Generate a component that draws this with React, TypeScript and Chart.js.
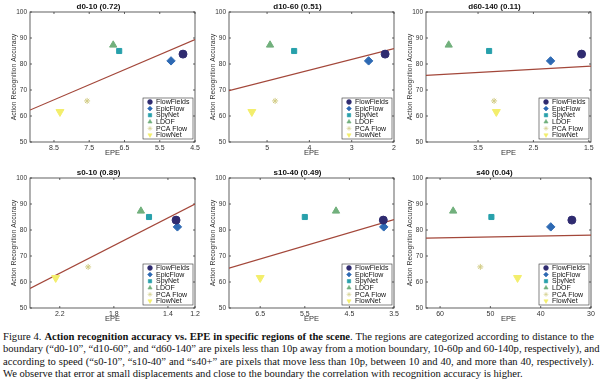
import React, { useEffect, useRef } from 'react';
import { Chart, registerables } from 'chart.js';
import { drawPoint } from 'chart.js/helpers';

Chart.register(...registerables);
Chart.defaults.font.family = '"Liberation Sans", Arial, Helvetica, sans-serif';

// ---------- data ----------
const methods = ['FlowFields', 'EpicFlow', 'SpyNet', 'LDOF', 'PCA Flow', 'FlowNet'];
const accuracy = [83.8, 81.2, 85.0, 87.3, 65.8, 61.6];

const panelTitles = ['d0-10 (0.72)', 'd10-60 (0.51)', 'd60-140 (0.11)', 's0-10 (0.89)', 's10-40 (0.49)', 's40 (0.04)'];

const epeD0_10 = [4.84, 5.18, 6.65, 6.82, 7.56, 8.33];
const epeD10_60 = [2.21, 2.6, 4.36, 4.93, 4.81, 5.36];
const epeD60_140 = [1.63, 2.19, 3.3, 4.03, 3.21, 3.17];
const epeS0_10 = [1.34, 1.33, 1.54, 1.6, 1.99, 2.23];
const epeS10_40 = [3.74, 3.73, 5.5, 4.8, 4.5, 6.5];
const epeS40 = [33.8, 38, 49.8, 57.4, 52, 44.6];

const xTicksD0_10 = [8.5, 7.5, 6.5, 5.5, 4.5];
const xTicksD10_60 = [5, 4, 3, 2];
const xTicksD60_140 = [3.5, 2.5, 1.5];
const xTicksS0_10 = [2.2, 1.8, 1.4, 1.2];
const xTicksS10_40 = [6.5, 5.5, 4.5, 3.5];
const xTicksS40 = [60, 50, 40, 30];
const yTicks = [50, 60, 70, 80, 90, 100];

// EPE axis limits (axis is reversed)
const xLow = [4.5, 2, 1.46, 1.2, 3.5, 30];
const xHigh = [9.18, 5.9, 4.44, 2.42, 7.2, 62.8];

const epeSets = [epeD0_10, epeD10_60, epeD60_140, epeS0_10, epeS10_40, epeS40];
const xTickSets = [xTicksD0_10, xTicksD10_60, xTicksD60_140, xTicksS0_10, xTicksS10_40, xTicksS40];

// ---------- styles ----------
const markerStyle = ['circle', 'rectRot', 'rect', 'triangle', 'star', 'triangle'];
const markerRotation = [0, 0, 0, 0, 0, 180];
const markerRadius = [4, 4.2, 3.6, 4.2, 3, 4.6];
const markerColor = ['#2f2b70', '#2d69b3', '#27a0ab', '#71b07c', '#d2cc86', '#f3ee6c'];
const colLefts = [2, 201, 398];
const rowTops = [0, 166];
const CW = 201;
const CH = 158;

function linearFit(xs: number[], ys: number[]) {
  const n = xs.length;
  const mx = xs.reduce((a, b) => a + b, 0) / n;
  const my = ys.reduce((a, b) => a + b, 0) / n;
  let sxy = 0;
  let sxx = 0;
  for (let i = 0; i < n; i++) {
    sxy += (xs[i] - mx) * (ys[i] - my);
    sxx += (xs[i] - mx) * (xs[i] - mx);
  }
  const slope = sxy / sxx;
  return { slope, intercept: my - slope * mx };
}

const framePlugin = {
  id: 'frameBox',
  beforeDatasetsDraw(chart: any) {
    const { ctx, chartArea: a, scales } = chart;
    ctx.save();
    ctx.strokeStyle = '#3a3a3a';
    ctx.lineWidth = 0.8;
    ctx.strokeRect(a.left, a.top, a.right - a.left, a.bottom - a.top);
    ctx.beginPath();
    scales.x.ticks.forEach((t: any) => {
      const px = scales.x.getPixelForValue(t.value);
      ctx.moveTo(px, a.bottom);
      ctx.lineTo(px, a.bottom - 2);
      ctx.moveTo(px, a.top);
      ctx.lineTo(px, a.top + 2);
    });
    scales.y.ticks.forEach((t: any) => {
      const py = scales.y.getPixelForValue(t.value);
      ctx.moveTo(a.left, py);
      ctx.lineTo(a.left + 2, py);
      ctx.moveTo(a.right, py);
      ctx.lineTo(a.right - 2, py);
    });
    ctx.stroke();
    ctx.restore();
  },
};

const boxLegendPlugin = {
  id: 'boxLegend',
  afterDatasetsDraw(chart: any) {
    const { ctx, chartArea: a } = chart;
    const w = 50;
    const h = 41;
    const x0 = a.right - 2 - w;
    const y0 = a.bottom - 3 - h;
    ctx.save();
    ctx.fillStyle = '#ffffff';
    ctx.fillRect(x0, y0, w, h);
    ctx.strokeStyle = '#333333';
    ctx.lineWidth = 0.6;
    ctx.strokeRect(x0, y0, w, h);
    methods.forEach((m, k) => {
      const cy = y0 + 4 + k * 6.6;
      ctx.fillStyle = markerColor[k];
      ctx.strokeStyle = markerColor[k];
      drawPoint(ctx, { pointStyle: markerStyle[k], rotation: markerRotation[k], radius: 2.4, borderWidth: 1 } as any, x0 + 7, cy);
      ctx.fillStyle = '#111111';
      ctx.font = '7px "Liberation Sans", Arial, sans-serif';
      ctx.textBaseline = 'middle';
      ctx.textAlign = 'left';
      ctx.fillText(m, x0 + 13, cy + 0.3);
    });
    ctx.restore();
  },
};

function Panel({ index }: { index: number }) {
  const ref = useRef<HTMLCanvasElement>(null);
  useEffect(() => {
    if (!ref.current) return;
    const xs = epeSets[index];
    const ticksX = xTickSets[index];
    const lo = xLow[index];
    const hi = xHigh[index];
    const { slope, intercept } = linearFit(xs, accuracy);
    const pointSets = methods.map((m, k) => ({
      label: m,
      data: [{ x: xs[k], y: accuracy[k] }],
      pointStyle: markerStyle[k],
      rotation: markerRotation[k],
      pointRadius: markerRadius[k],
      backgroundColor: markerColor[k],
      borderColor: markerColor[k],
      borderWidth: 1,
      order: 1,
    }));
    const fitSet = {
      label: 'fit',
      data: [
        { x: lo, y: slope * lo + intercept },
        { x: hi, y: slope * hi + intercept },
      ],
      showLine: true,
      pointRadius: 0,
      borderColor: '#a3473a',
      borderWidth: 1.2,
      order: 2,
    };
    const chart = new Chart(ref.current, {
      type: 'scatter',
      data: { datasets: [...pointSets, fitSet] as any },
      options: {
        animation: false,
        responsive: false,
        devicePixelRatio: 1,
        layout: { padding: { top: 0, right: 8, bottom: 0, left: 0 } },
        plugins: {
          legend: { display: false },
          tooltip: { enabled: false },
          title: {
            display: true,
            text: panelTitles[index],
            color: '#111',
            font: { size: 8, weight: 'bold' },
            padding: { top: 2.2, bottom: 0.2 },
          },
        },
        scales: {
          x: {
            type: 'linear',
            reverse: true,
            min: lo,
            max: hi,
            afterBuildTicks: (s: any) => {
              s.ticks = ticksX.map((v) => ({ value: v }));
            },
            afterFit: (s: any) => {
              s.height = 16;
            },
            grid: { display: false, drawTicks: false },
            border: { display: false },
            ticks: {
              color: '#333',
              font: { size: 7 },
              padding: 1.5,
              maxRotation: 0,
              autoSkip: false,
              callback: (v: any) => String(v),
            },
            title: {
              display: true,
              text: 'EPE',
              color: '#333',
              font: { size: 7.5 },
              padding: { top: 0, bottom: 0.3 },
            },
          },
          y: {
            type: 'linear',
            min: 50,
            max: 100,
            afterBuildTicks: (s: any) => {
              s.ticks = yTicks.map((v) => ({ value: v }));
            },
            afterFit: (s: any) => {
              s.width = 28;
            },
            grid: { display: false, drawTicks: false },
            border: { display: false },
            ticks: {
              color: '#333',
              font: { size: 6.5 },
              padding: 3,
              autoSkip: false,
              callback: (v: any) => String(v),
            },
            title: {
              display: true,
              text: 'Action Recognition Accuracy',
              color: '#333',
              font: { size: 6.8 },
              padding: { top: 8.3, bottom: 0 },
            },
          },
        },
      } as any,
      plugins: [framePlugin, boxLegendPlugin],
    });
    return () => chart.destroy();
  }, [index]);
  const left = colLefts[index % 3];
  const top = rowTops[Math.floor(index / 3)];
  return (
    <canvas
      ref={ref}
      width={CW}
      height={CH}
      style={{ position: 'absolute', left, top, width: CW, height: CH }}
    />
  );
}

const lineStyle: React.CSSProperties = {
  whiteSpace: 'nowrap',
  textAlign: 'justify',
  textAlignLast: 'justify' as any,
};

export default function App() {
  return (
    <div
      style={{
        position: 'fixed',
        left: 0,
        top: 0,
        width: 600,
        height: 386,
        background: '#ffffff',
        overflow: 'hidden',
      }}
    >
      {[0, 1, 2, 3, 4, 5].map((i) => (
        <Panel key={i} index={i} />
      ))}
      <div
        style={{
          position: 'absolute',
          left: 3,
          top: 331,
          width: 591,
          fontFamily: '"Liberation Serif", "Times New Roman", serif',
          fontSize: 10.6,
          lineHeight: '12.4px',
          color: '#111',
        }}
      >
        <div style={lineStyle}>
          Figure 4. <b>Action recognition accuracy vs. EPE in specific regions of the scene</b>. The regions are categorized according to distance to the
        </div>
        <div style={lineStyle}>
          boundary (“d0-10”, “d10-60”, and “d60-140” are pixels less than 10p away from a motion boundary, 10-60p and 60-140p, respectively), and
        </div>
        <div style={lineStyle}>
          according to speed (“s0-10”, “s10-40” and “s40+” are pixels that move less than 10p, between 10 and 40, and more than 40, respectively).
        </div>
        <div style={{ whiteSpace: 'nowrap' }}>
          We observe that error at small displacements and close to the boundary the correlation with recognition accuracy is higher.
        </div>
      </div>
    </div>
  );
}
